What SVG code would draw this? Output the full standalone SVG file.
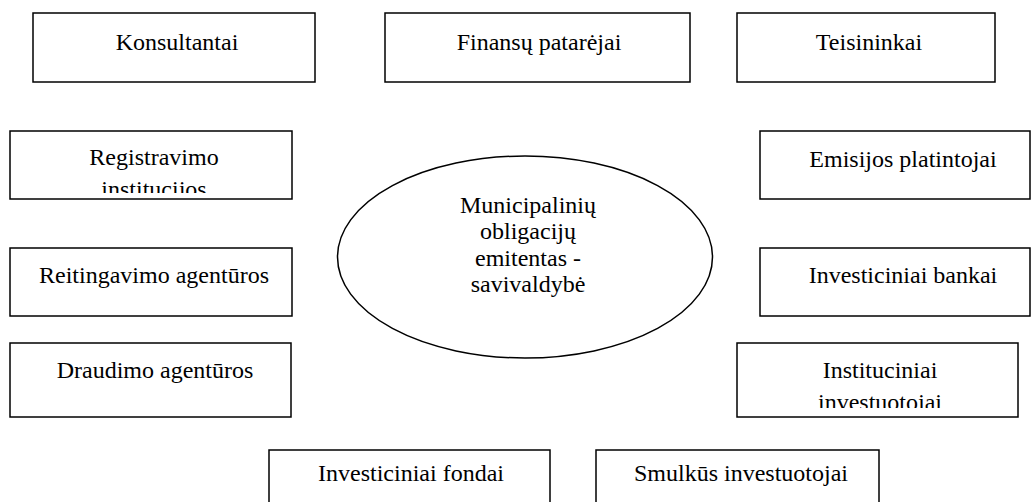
<svg xmlns="http://www.w3.org/2000/svg" width="1032" height="502" viewBox="0 0 1032 502">
<style>
.box{fill:#fff;stroke:#000;stroke-width:1.5}
</style>
<defs>
<clipPath id="clipReg"><rect x="11" y="132" width="280" height="61"/></clipPath>
<clipPath id="clipInst"><rect x="738" y="344" width="279" height="64"/></clipPath>
</defs>
<rect width="1032" height="502" fill="#fff"/>
<g id="connectors"></g>
<g font-family="'Liberation Serif', 'DejaVu Serif', 'Times New Roman', serif" font-size="24" fill="#000" text-anchor="middle">
<g id="n-konsultantai"><rect class="box" x="33" y="13" width="282" height="69"/><text x="177" y="50">Konsultantai</text></g>
<g id="n-finansu"><rect class="box" x="385" y="13" width="305" height="69"/><text x="539" y="50">Finansų patarėjai</text></g>
<g id="n-teisininkai"><rect class="box" x="737" y="13" width="258" height="69"/><text x="869" y="50">Teisininkai</text></g>
<g id="n-registravimo"><rect class="box" x="10" y="131" width="282" height="68"/><g clip-path="url(#clipReg)"><text x="154" y="165">Registravimo</text><text x="154" y="197">institucijos</text></g></g>
<g id="n-emisijos"><rect class="box" x="760" y="131" width="270" height="68"/><text x="903" y="167">Emisijos platintojai</text></g>
<g id="n-emitentas"><ellipse cx="525" cy="257" rx="187.5" ry="101" fill="#fff" stroke="#000" stroke-width="1.5"/><text x="528" y="213">Municipalinių</text><text x="528" y="239">obligacijų</text><text x="528" y="266">emitentas -</text><text x="528" y="292">savivaldybė</text></g>
<g id="n-reitingavimo"><rect class="box" x="10" y="248" width="282" height="68"/><text x="154" y="283">Reitingavimo agentūros</text></g>
<g id="n-investiciniai-bankai"><rect class="box" x="760" y="248" width="270" height="68"/><text x="903" y="283">Investiciniai bankai</text></g>
<g id="n-draudimo"><rect class="box" x="10" y="343" width="281" height="74"/><text x="155" y="378">Draudimo agentūros</text></g>
<g id="n-instituciniai"><rect class="box" x="737" y="343" width="281" height="74"/><g clip-path="url(#clipInst)"><text x="880" y="378">Instituciniai</text><text x="880" y="410">investuotojai</text></g></g>
<g id="n-fondai"><rect class="box" x="269" y="450" width="281" height="70"/><text x="411" y="481">Investiciniai fondai</text></g>
<g id="n-smulkus"><rect class="box" x="596" y="450" width="283" height="70"/><text x="741" y="481">Smulkūs investuotojai</text></g>
</g>
</svg>
